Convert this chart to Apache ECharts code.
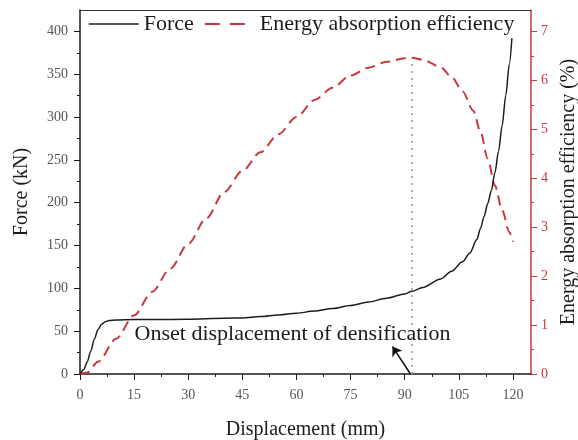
<!DOCTYPE html>
<html>
<head>
<meta charset="utf-8">
<script src="https://cdn.jsdelivr.net/npm/echarts@6/dist/echarts.min.js"></script>
<style>
  html, body { margin: 0; padding: 0; background: #fff; }
  #chart { width: 578px; height: 440px; }
</style>
</head>
<body>
<div id="chart"></div>
<script>
// Force–displacement curve (displacement in mm, force in kN)
const forceX = [0, 1, 2, 3, 4, 5, 6, 7, 8, 10, 15, 20, 30, 40, 45, 50, 55, 60, 65, 70, 75, 80, 85, 90, 92, 95, 100, 103, 106, 108, 110, 111, 112, 113, 114, 115, 116, 117, 118, 119, 119.7];
const forceY = [0, 5, 14, 27, 41, 52, 58, 61, 62.5, 63, 63.5, 63.5, 64, 65, 65.5, 67, 69, 71, 73.5, 76.5, 80, 84, 88.5, 93.5, 96.5, 101, 111, 120, 131, 141, 157, 170, 184, 199, 214, 235, 260, 290, 325, 362, 392];

// Energy absorption efficiency (%) against displacement (mm)
const effX = [0, 2, 5, 10, 15, 20, 25, 30, 35, 40, 45, 50, 55, 60, 65, 70, 75, 80, 85, 90, 92, 95, 100, 103, 106, 109, 111, 113, 115, 117, 119, 120];
const effY = [0, 0.03, 0.25, 0.72, 1.2, 1.68, 2.15, 2.66, 3.18, 3.72, 4.15, 4.53, 4.9, 5.25, 5.6, 5.85, 6.1, 6.26, 6.38, 6.45, 6.46, 6.42, 6.27, 6.07, 5.78, 5.38, 4.95, 4.4, 3.85, 3.35, 2.9, 2.7];

// Onset displacement of densification (peak efficiency)
const onsetX = 92;
const onsetEff = 6.46;

// Axis ticks
const xTicks = [0, 15, 30, 45, 60, 75, 90, 105, 120];
const forceTicks = [0, 50, 100, 150, 200, 250, 300, 350, 400];
const effTicks = [0, 1, 2, 3, 4, 5, 6, 7];

const seriesNames = ['Force', 'Energy absorption efficiency'];
const onsetLabel = 'Onset displacement of densification';

const SERIF = '"Liberation Serif", "Times New Roman", serif';
const RED = '#c8393f';
const GREY = '#555';
const INK = '#1c1c1c';

const zip = (xs, ys) => xs.map((x, i) => [x, ys[i]]);

const chart = echarts.init(document.getElementById('chart'), null, { renderer: 'canvas' });

chart.setOption({
  animation: false,
  backgroundColor: '#fff',
  grid: { left: 80, right: 47, top: 10, bottom: 66, containLabel: false, outerBoundsMode: 'none' },
  legend: {
    left: 88,
    top: 13,
    padding: 0,
    itemWidth: 50,
    itemHeight: 14,
    itemGap: 10,
    itemStyle: { opacity: 0 },
    textStyle: { fontFamily: SERIF, fontSize: 22, color: INK },
    data: [
      { name: seriesNames[0], lineStyle: { color: INK, width: 1.5, type: 'solid' } },
      { name: seriesNames[1], lineStyle: { color: RED, width: 2, type: [15, 10] } }
    ]
  },
  xAxis: [
    {
      type: 'value',
      position: 'bottom',
      min: 0,
      max: 125,
      interval: 15,
      name: 'Displacement (mm)',
      nameLocation: 'middle',
      nameGap: 46,
      nameTextStyle: { fontFamily: SERIF, fontSize: 20, color: INK },
      axisLine: { show: true, onZero: false, lineStyle: { color: INK, width: 1.5 } },
      axisTick: { show: true, inside: false, length: 6, customValues: xTicks, lineStyle: { color: INK } },
      minorTick: { show: true, splitNumber: 2, length: 3, lineStyle: { color: INK } },
      axisLabel: { customValues: xTicks, margin: 14, fontFamily: SERIF, fontSize: 14, color: GREY },
      splitLine: { show: false }
    },
    {
      type: 'value',
      position: 'top',
      min: 0,
      max: 125,
      axisLine: { show: true, onZero: false, lineStyle: { color: '#333', width: 1.2 } },
      axisTick: { show: false },
      axisLabel: { show: false },
      splitLine: { show: false }
    }
  ],
  yAxis: [
    {
      type: 'value',
      position: 'left',
      min: 0,
      max: 425,
      interval: 50,
      name: 'Force (kN)',
      nameLocation: 'middle',
      nameRotate: 90,
      nameGap: 48,
      nameTextStyle: { fontFamily: SERIF, fontSize: 20, color: INK },
      axisLine: { show: true, onZero: false, lineStyle: { color: INK, width: 1.5 } },
      axisTick: { show: true, inside: false, length: 6, customValues: forceTicks, lineStyle: { color: INK } },
      minorTick: { show: true, splitNumber: 2, length: 3, lineStyle: { color: INK } },
      axisLabel: { customValues: forceTicks, margin: 12, fontFamily: SERIF, fontSize: 14, color: GREY },
      splitLine: { show: false }
    },
    {
      type: 'value',
      position: 'right',
      min: 0,
      max: 7.4375,
      interval: 1,
      name: 'Energy absorption efficiency (%)',
      nameLocation: 'middle',
      nameRotate: 90,
      nameGap: 24,
      nameTextStyle: { fontFamily: SERIF, fontSize: 20, color: INK },
      axisLine: { show: true, onZero: false, lineStyle: { color: RED, width: 1.5 } },
      axisTick: { show: true, inside: false, length: 6, customValues: effTicks, lineStyle: { color: RED } },
      minorTick: { show: true, splitNumber: 2, length: 3, lineStyle: { color: RED } },
      axisLabel: { customValues: effTicks, margin: 10, fontFamily: SERIF, fontSize: 14, color: RED },
      splitLine: { show: false }
    }
  ],
  series: [
    {
      name: seriesNames[1],
      type: 'line',
      xAxisIndex: 0,
      yAxisIndex: 1,
      data: zip(effX, effY),
      showSymbol: false,
      symbol: 'none',
      smooth: 0.3,
      smoothMonotone: 'x',
      lineStyle: { color: RED, width: 2, type: [10, 6] },
      itemStyle: { color: RED },
      z: 2,
      markLine: {
        silent: true,
        symbol: ['none', 'none'],
        label: { show: false },
        lineStyle: { color: '#8aa86a', width: 1.5, type: [2, 5] },
        data: [[{ coord: [onsetX, 0] }, { coord: [onsetX, onsetEff] }]]
      }
    },
    {
      name: seriesNames[0],
      type: 'line',
      xAxisIndex: 0,
      yAxisIndex: 0,
      data: zip(forceX, forceY),
      showSymbol: false,
      symbol: 'none',
      smooth: 0.3,
      smoothMonotone: 'x',
      lineStyle: { color: INK, width: 1.5 },
      itemStyle: { color: INK },
      z: 3,
      markLine: {
        silent: true,
        symbol: ['none', 'arrow'],
        symbolSize: 9,
        label: { show: false },
        lineStyle: { color: '#111', width: 1.5, type: 'solid' },
        data: [[{ coord: [91.6, 0] }, { coord: [86.6, 32] }]]
      },
      markPoint: {
        silent: true,
        symbol: 'circle',
        symbolSize: 1,
        itemStyle: { color: 'rgba(0,0,0,0)' },
        label: {
          show: true,
          position: 'right',
          distance: 0,
          formatter: onsetLabel,
          fontFamily: SERIF,
          fontSize: 22,
          color: INK
        },
        data: [{ coord: [15, 46] }]
      }
    }
  ]
});
</script>
</body>
</html>
